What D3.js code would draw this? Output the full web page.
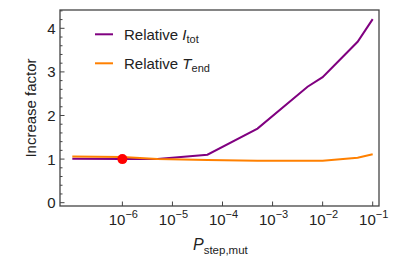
<!DOCTYPE html>
<html><head><meta charset="utf-8">
<script src="https://cdn.jsdelivr.net/npm/d3@7"></script>
<style>body{margin:0;background:#fff}svg{display:block;font-family:"Liberation Sans",Arial,sans-serif}</style>
</head><body><svg id="c" width="399" height="257"></svg>
<script>
const xValues = [1e-7, 1e-6, 5e-6, 5e-5, 5e-4, 5e-3, 1e-2, 5e-2, 1e-1];
const relItot = [1.01, 1.00, 1.00, 1.10, 1.70, 2.66, 2.88, 3.69, 4.21];
const relTend = [1.06, 1.05, 1.00, 0.98, 0.96, 0.96, 0.96, 1.03, 1.11];
const highlight = {x: 1e-6, y: 1.0};
const xTickExps = [-6, -5, -4, -3, -2, -1];
const yTicks = [0, 1, 2, 3, 4];

const svg = d3.select("#c");
const L = 60, R = 379, T = 10, B = 206;
const x = d3.scaleLog().domain([Math.pow(10, -7.246), Math.pow(10, -0.874)]).range([L, R]);
const y = d3.scaleLinear().domain([-0.076, 4.42]).range([B, T]);
const frame = "#444";

// frame
svg.append("rect").attr("x", L).attr("y", T).attr("width", R - L).attr("height", B - T)
  .attr("fill", "none").attr("stroke", frame).attr("stroke-width", 1.3);

// y ticks (major and minor, inward)
const yMinor = d3.range(0, 4.41, 0.2);
svg.append("g").selectAll("line").data(yMinor).join("line")
  .attr("x1", L).attr("x2", d => L + (Math.abs(d - Math.round(d)) < 1e-6 ? 4.5 : 2.5))
  .attr("y1", d => y(d)).attr("y2", d => y(d)).attr("stroke", frame).attr("stroke-width", 1);
svg.append("g").selectAll("text").data(yTicks).join("text")
  .attr("x", L - 4.5).attr("y", d => y(d) + 5.5).attr("text-anchor", "end")
  .attr("font-size", 15).attr("fill", "#222").text(d => d);

// x ticks
svg.append("g").selectAll("line").data(xTickExps).join("line")
  .attr("x1", d => x(Math.pow(10, d))).attr("x2", d => x(Math.pow(10, d)))
  .attr("y1", B).attr("y2", B - 4.5).attr("stroke", frame).attr("stroke-width", 1);
const xt = svg.append("g").selectAll("text").data(xTickExps).join("text")
  .attr("x", d => x(Math.pow(10, d)) + 1).attr("y", 224.5).attr("text-anchor", "middle")
  .attr("font-size", 15).attr("fill", "#222");
xt.append("tspan").text("10");
xt.append("tspan").attr("dy", -6.5).attr("font-size", 11).text(d => "\u2212" + Math.abs(d));

// lines
const line = d3.line().x(d => x(d[0])).y(d => y(d[1]));
svg.append("path").datum(xValues.map((v, i) => [v, relItot[i]]))
  .attr("d", line).attr("fill", "none").attr("stroke", "#800080").attr("stroke-width", 2);
svg.append("path").datum(xValues.map((v, i) => [v, relTend[i]]))
  .attr("d", line).attr("fill", "none").attr("stroke", "#ff8000").attr("stroke-width", 2);

// highlight point
svg.append("circle").attr("cx", x(highlight.x)).attr("cy", y(highlight.y)).attr("r", 5).attr("fill", "#ff0000");

// legend
const leg = [{c: "#800080", main: "Relative ", it: "I", sub: "tot", yy: 34.3},
             {c: "#ff8000", main: "Relative ", it: "T", sub: "end", yy: 63.3}];
leg.forEach(e => {
  svg.append("line").attr("x1", 95).attr("x2", 113).attr("y1", e.yy).attr("y2", e.yy)
    .attr("stroke", e.c).attr("stroke-width", 2);
  const t = svg.append("text").attr("x", 124).attr("y", e.yy + 5.5).attr("font-size", 15).attr("fill", "#222");
  t.append("tspan").text(e.main);
  t.append("tspan").attr("font-style", "italic").text(e.it);
  t.append("tspan").attr("dy", 3.5).attr("font-size", 11).text(e.sub);
});

// axis labels
svg.append("text").attr("transform", `translate(36,${(T + B) / 2}) rotate(-90)`)
  .attr("text-anchor", "middle").attr("font-size", 15).attr("fill", "#222").text("Increase factor");
const xl = svg.append("text").attr("x", 193).attr("y", 250).attr("font-size", 16).attr("fill", "#222");
xl.append("tspan").attr("font-style", "italic").text("P");
xl.append("tspan").attr("dy", 3.5).attr("font-size", 11.5).text("step,mut");
</script></body></html>
